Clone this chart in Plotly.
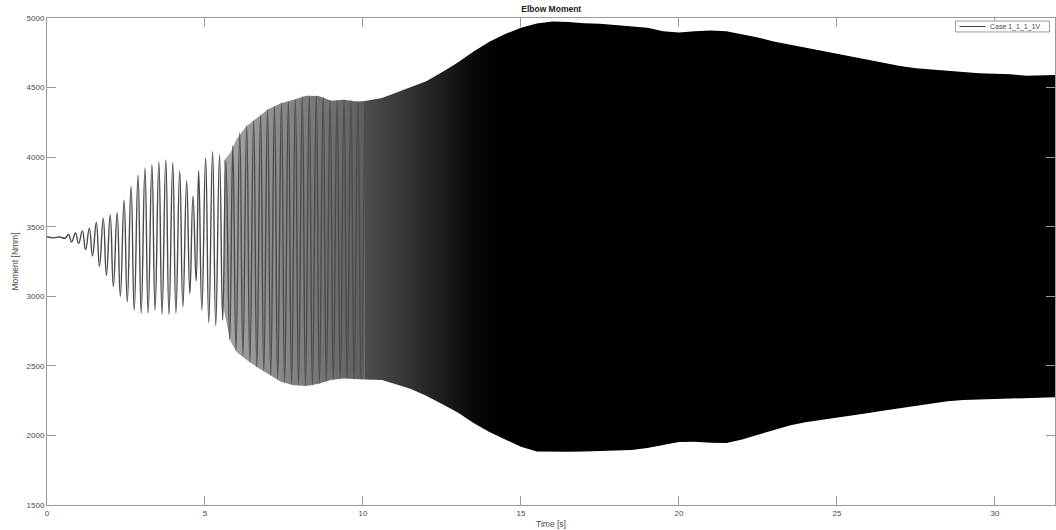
import plotly.graph_objects as go

# ---- measured response: individual oscillation extremes (start-up phase) ----
osc_t = [0.00, 0.20, 0.40, 0.58, 0.68, 0.78, 0.90, 1.00, 1.12, 1.22, 1.34, 1.44,
         1.56, 1.66, 1.78, 1.88, 2.00, 2.10, 2.22, 2.32, 2.44, 2.54, 2.66, 2.76,
         2.88, 2.98, 3.10, 3.20, 3.32, 3.42, 3.54, 3.64, 3.76, 3.86, 3.98, 4.08,
         4.20, 4.30, 4.42, 4.52, 4.62, 4.72, 4.80, 4.90, 5.02, 5.12, 5.24, 5.34,
         5.46, 5.56, 5.66, 5.78, 5.88, 5.98, 6.10, 6.20, 6.32, 6.42, 6.54, 6.64,
         6.76, 6.86, 6.98, 7.08, 7.20, 7.30, 7.42, 7.52, 7.64, 7.74, 7.86, 7.96,
         8.08, 8.18, 8.30, 8.40, 8.52, 8.62, 8.74, 8.84, 8.96, 9.06, 9.18, 9.28,
         9.40, 9.50, 9.62, 9.72, 9.84, 9.94, 10.06]
osc_v = [3428, 3420, 3426, 3418, 3445, 3390, 3455, 3380, 3470, 3335, 3490, 3290,
         3530, 3215, 3560, 3150, 3585, 3070, 3600, 3000, 3690, 2960, 3790, 2900,
         3870, 2878, 3920, 2880, 3945, 2900, 3965, 2870, 3980, 2868, 3960, 2880,
         3900, 2925, 3830, 3020, 3720, 3110, 3900, 2900, 3995, 2810, 4039, 2790,
         4015, 2830, 3975, 2690, 4080, 2610, 4175, 2575, 4222, 2530, 4262, 2492,
         4300, 2465, 4342, 2432, 4365, 2405, 4390, 2380, 4400, 2365, 4412, 2360,
         4438, 2355, 4442, 2360, 4442, 2372, 4430, 2385, 4408, 2400, 4405, 2408,
         4412, 2410, 4408, 2406, 4400, 2404, 4403]

# ---- envelope of the fully developed oscillation ----
env_t = [5.6, 5.8, 6.0, 6.3, 6.6, 7.0, 7.4, 7.8, 8.2, 8.6, 9.0, 9.4, 9.8, 10.06,
         10.6, 11.0, 11.5, 12.0, 12.5, 13.0, 13.5, 14.0, 14.5, 15.0, 15.5, 16.0,
         16.5, 17.0, 17.5, 18.0, 18.5, 19.0, 19.5, 20.0, 20.5, 21.0, 21.5, 22.0,
         22.5, 23.0, 23.5, 24.0, 24.5, 25.0, 25.5, 26.0, 26.5, 27.0, 27.5, 28.0,
         28.5, 29.0, 29.5, 30.0, 30.5, 31.0, 31.5, 32.0]
env_upper = [3975, 4030, 4130, 4220, 4275, 4345, 4388, 4412, 4442, 4440, 4405,
             4412, 4400, 4403, 4425, 4460, 4500, 4545, 4610, 4680, 4760, 4830,
             4885, 4930, 4960, 4975, 4972, 4962, 4958, 4950, 4940, 4930, 4905,
             4895, 4905, 4910, 4905, 4885, 4860, 4832, 4810, 4788, 4765, 4742,
             4718, 4697, 4675, 4655, 4638, 4628, 4620, 4610, 4603, 4600, 4596,
             4585, 4585, 4590]
env_lower = [2900, 2680, 2600, 2545, 2497, 2440, 2385, 2360, 2355, 2372, 2400,
             2410, 2405, 2402, 2398, 2370, 2335, 2285, 2225, 2165, 2090, 2025,
             1970, 1918, 1885, 1882, 1883, 1885, 1888, 1890, 1895, 1910, 1930,
             1952, 1955, 1948, 1945, 1970, 2005, 2040, 2072, 2095, 2112, 2127,
             2145, 2162, 2180, 2195, 2212, 2230, 2245, 2255, 2262, 2265, 2268,
             2270, 2272, 2275]

x_ticks = [0, 5, 10, 15, 20, 25, 30]
y_ticks = [1500, 2000, 2500, 3000, 3500, 4000, 4500, 5000]
series_name = "Case 1_1_1_1V"

FONT = "Liberation Sans, Arial, Helvetica, sans-serif"
AXIS_GREY = "#9a9a9a"
TEXT_GREY = "#4a4a4a"


def band(t0, t1):
    """Closed outline of the envelope between t0 and t1 (inclusive)."""
    idx = [i for i, t in enumerate(env_t) if t0 <= t <= t1]
    xs = [env_t[i] for i in idx] + [env_t[i] for i in reversed(idx)]
    ys = [env_upper[i] for i in idx] + [env_lower[i] for i in reversed(idx)]
    return xs, ys


fig = go.Figure()

# band under the still-resolved cycles
bx, by = band(5.6, 10.06)
fig.add_trace(go.Scatter(
    x=bx, y=by, mode="lines", fill="toself", line=dict(width=0),
    fillgradient=dict(type="horizontal", start=5.6, stop=10.06,
                      colorscale=[[0, "#a6a6a6"], [0.5, "#828282"],
                                  [1, "#5e5e5e"]]),
    hoverinfo="skip", showlegend=False))

# dense part: cycles merge into a solid band that darkens with time
bx, by = band(10.06, 32.0)
fig.add_trace(go.Scatter(
    x=bx, y=by, mode="lines", fill="toself", line=dict(width=0),
    fillgradient=dict(type="horizontal", start=10.06, stop=14.2,
                      colorscale=[[0.0, "#4e4e4e"], [0.3, "#363636"],
                                  [0.6, "#1c1c1c"], [0.85, "#070707"],
                                  [1.0, "#000000"]]),
    hoverinfo="skip", showlegend=False))

# resolved oscillation cycles
fig.add_trace(go.Scatter(
    x=osc_t, y=osc_v, mode="lines", name=series_name,
    line=dict(color="#4a4a4a", width=1.4, shape="spline", smoothing=1.3),
    showlegend=False))

axis_common = dict(
    showgrid=False, zeroline=False, showline=True, linecolor=AXIS_GREY,
    linewidth=1, mirror="ticks", ticks="inside", ticklen=9, tickwidth=1,
    tickcolor=AXIS_GREY, tickfont=dict(family=FONT, size=8, color=TEXT_GREY),
)

fig.update_xaxes(range=[0, 31.9], tickvals=x_ticks,
                 title=dict(text="Time [s]", standoff=4,
                            font=dict(family=FONT, size=8.5, color=TEXT_GREY)),
                 **axis_common)
fig.update_yaxes(range=[1500, 5000], tickvals=y_ticks,
                 title=dict(text="Moment [Nmm]", standoff=6,
                            font=dict(family=FONT, size=8.5, color=TEXT_GREY)),
                 **axis_common)

# compact legend box in the upper right corner
fig.add_shape(type="rect", xref="paper", yref="paper",
              x0=0.9014, x1=0.9945, y0=0.9713, y1=0.9938,
              line=dict(color=AXIS_GREY, width=1), fillcolor="white")
fig.add_shape(type="line", xref="paper", yref="paper",
              x0=0.9053, x1=0.9310, y0=0.9825, y1=0.9825,
              line=dict(color="#3c3c3c", width=1))
fig.add_annotation(text=series_name, xref="paper", yref="paper",
                   x=0.9335, y=0.9825, xanchor="left", yanchor="middle",
                   showarrow=False,
                   font=dict(family=FONT, size=7, color=TEXT_GREY))

fig.update_layout(
    width=1056, height=530,
    margin=dict(l=47, r=1, t=18, b=25),
    paper_bgcolor="white", plot_bgcolor="white",
    title=dict(text="<b>Elbow Moment</b>", x=0.522, xanchor="center",
               y=0.989, yanchor="top",
               font=dict(family=FONT, size=8.5, color="#222222")),
    showlegend=False,
)

fig.write_html("out.html")
